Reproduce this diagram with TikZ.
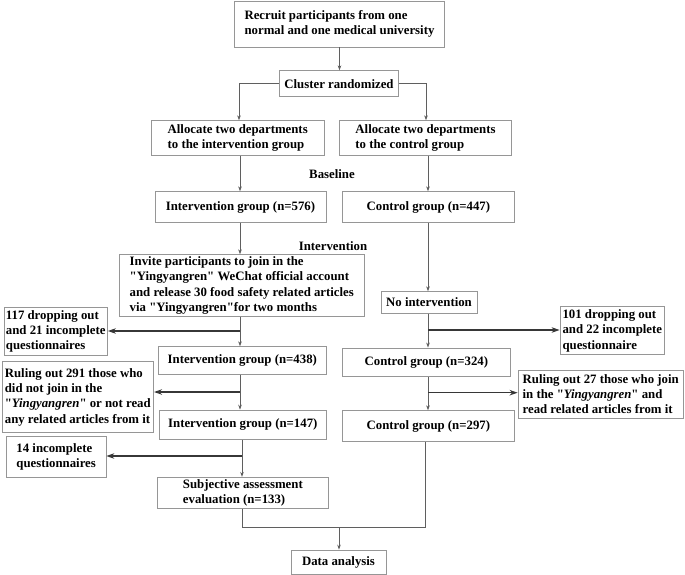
\documentclass[tikz,border=0pt]{standalone}
\usepackage{fontspec}
\setmainfont{Liberation Serif}[Ligatures=TeXOff]
\usetikzlibrary{arrows.meta}
\definecolor{boxc}{RGB}{150,150,150}
\definecolor{vac}{RGB}{95,95,95}
\definecolor{brc}{RGB}{55,55,55}
\tikzset{
  box/.style={draw=boxc, line width=0.8pt, align=left, inner sep=2pt,
    font=\fontsize{12.8}{15.3}\selectfont\bfseries},
  lbl/.style={inner sep=0pt, font=\fontsize{12.8}{15.3}\selectfont\bfseries},
  va/.style={draw=vac, line width=0.7pt, -{Stealth[length=5pt,width=3.6pt]}},
  ln/.style={draw=vac, line width=0.7pt},
  br/.style={draw=brc, line width=1.2pt, -{Stealth[length=8pt,width=5.5pt,inset=2.5pt]}},
}
\begin{document}
\begin{tikzpicture}[x=1pt,y=-1pt]
\useasboundingbox (0,0) rectangle (685,575);
\node[box, minimum width=210pt, minimum height=46pt] (rec) at (339.5,24)
  {Recruit participants from one\\normal and one medical university};
\node[box, minimum width=119pt, minimum height=26pt] (clu) at (339,83.7) {Cluster randomized};
\node[box, minimum width=172.5pt, minimum height=34.6pt] (allL) at (237.7,138)
  {Allocate two departments\\to the intervention group};
\node[box, minimum width=171.7pt, minimum height=34.6pt] (allR) at (425.5,138)
  {Allocate two departments\\to the control group};
\node[lbl] (base) at (332,174) {Baseline};
\node[box, minimum width=171pt, minimum height=30.6pt] (iv576) at (240.5,207) {Intervention group (n=576)};
\node[box, minimum width=171.2pt, minimum height=30.6pt] (ct447) at (428.4,207) {Control group (n=447)};
\node[lbl] (intv) at (333,246) {Intervention};
\node[box, minimum width=245.6pt, minimum height=57.6pt] (inv) at (241.8,285.5)
  {Invite participants to join in the\\"Yingyangren" WeChat official account\\and release 30 food safety related articles\\via "Yingyangren"for two months};
\node[box, minimum width=96pt, minimum height=21.6pt] (noi) at (429,302.5) {No intervention};
\node[box, minimum width=102.6pt, minimum height=47.6pt] (d117) at (55.7,331.5)
  {117 dropping out\\and 21 incomplete\\questionnaires};
\node[box, minimum width=168.6pt, minimum height=27.6pt] (iv438) at (242.3,360.5) {Intervention group (n=438)};
\node[box, minimum width=167.2pt, minimum height=28.7pt] (ct324) at (426.4,362.3) {Control group (n=324)};
\node[box, minimum width=104.6pt, minimum height=48pt] (d101) at (612.3,330.7)
  {101 dropping out\\and 22 incomplete\\questionnaire};
\node[box, minimum width=151.7pt, minimum height=70.6pt] (r291) at (77.8,397)
  {Ruling out 291 those who\\did not join in the\\"\textit{Yingyangren}" or not read\\any related articles from it};
\node[box, minimum width=167.6pt, minimum height=29.3pt] (iv147) at (242.8,424.7) {Intervention group (n=147)};
\node[box, minimum width=165.4pt, minimum height=48pt] (r27) at (600.7,394)
  {Ruling out 27 those who join\\in the "\textit{Yingyangren}" and\\read related articles from it};
\node[box, minimum width=171.2pt, minimum height=31pt] (ct297) at (428.4,426.2) {Control group (n=297)};
\node[box, minimum width=99.5pt, minimum height=41pt] (d14) at (56.2,457.2)
  {14 incomplete\\questionnaires};
\node[box, minimum width=171.8pt, minimum height=30.7pt] (subj) at (242.9,492.7)
  {Subjective assessment\\evaluation (n=133)};
\node[box, minimum width=95pt, minimum height=24pt] (data) at (338.5,562) {Data analysis};

% top part
\draw[va] (rec.south) -- (rec.south |- clu.north);
\draw[va] (clu.west) -| (239,0 |- allL.north);
\draw[va] (clu.east) -| (426,0 |- allR.north);
\coordinate (xl) at (240,0);
\coordinate (xr) at (428,0);
\draw[va] (xl |- allL.south) -- (xl |- iv576.north);
\draw[va] (xr |- allR.south) -- (xr |- ct447.north);
\draw[va] (xl |- iv576.south) -- (xl |- inv.north);
\draw[va] (xr |- ct447.south) -- (xr |- noi.north);
% intervention side
\draw[va] (xl |- inv.south) -- (xl |- iv438.north);
\coordinate (j1) at (240,331);
\draw[br] (j1) -- (j1 -| d117.east);
\draw[va] (xl |- iv438.south) -- (xl |- iv147.north);
\coordinate (j3) at (240,392);
\draw[br] (j3) -- (j3 -| r291.east);
\coordinate (xl2) at (242,0);
\draw[va] (xl2 |- iv147.south) -- (xl2 |- subj.north);
\coordinate (j5) at (242,456);
\draw[br] (j5) -- (j5 -| d14.east);
% control side
\draw[va] (xr |- noi.south) -- (xr |- ct324.north);
\coordinate (j2) at (428,330);
\draw[br] (j2) -- (j2 -| d101.west);
\draw[va] (xr |- ct324.south) -- (xr |- ct297.north);
\coordinate (j4) at (428,392.7);
\draw[br] (j4) -- (j4 -| r27.west);
% merge
\coordinate (m1) at (242,527.3);
\coordinate (m2) at (425,527.3);
\draw[ln] (xl2 |- subj.south) -- (m1) -- (m2) -- (m2 |- ct297.south);
\coordinate (m3) at (339,527.3);
\draw[va] (m3) -- (m3 |- data.north);
\end{tikzpicture}
\end{document}
